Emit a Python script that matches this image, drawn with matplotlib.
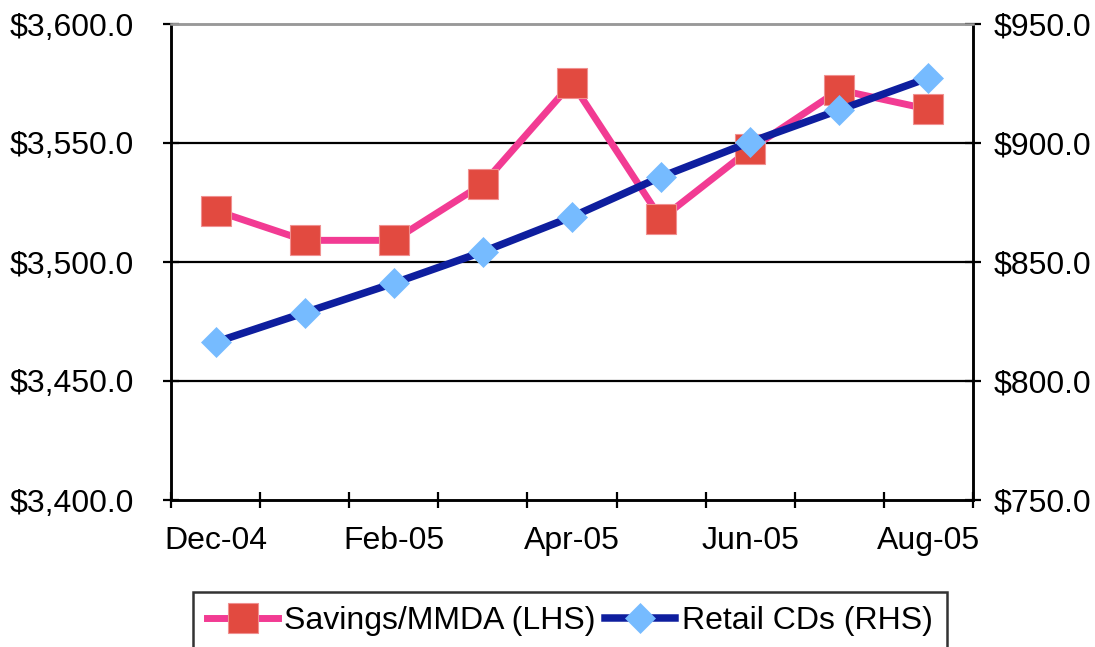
import matplotlib
matplotlib.use('Agg')
import matplotlib.pyplot as plt
import matplotlib.ticker as mtick
import numpy as np

plt.rcParams['font.family'] = ['Liberation Sans', 'DejaVu Sans']
dpi = 100

# Monthly balances
months = ['Dec-04', 'Jan-05', 'Feb-05', 'Mar-05', 'Apr-05',
          'May-05', 'Jun-05', 'Jul-05', 'Aug-05']
savings_mmda = [3521.6, 3509.1, 3509.1, 3532.8, 3575.3,
                3518.1, 3547.4, 3572.3, 3564.2]
retail_cds = [816.3, 828.7, 841.1, 854.3, 869.0,
              885.8, 900.4, 913.9, 927.4]
left_ticks = [3400, 3450, 3500, 3550, 3600]
right_ticks = [750, 800, 850, 900, 950]

x = np.arange(len(months))
font_size = 23

fig = plt.figure(figsize=(1095 / dpi, 647 / dpi), dpi=dpi)
ax = fig.add_axes([171 / 1095, 1 - 500 / 647, (973 - 171) / 1095, (500 - 24) / 647])
ax2 = ax.twinx()

# Savings on the left axis
ax.plot(x, savings_mmda, color='#F23B93', linewidth=5.0, marker='s',
        markersize=21, markerfacecolor='#E24A40', markeredgecolor='#F09090',
        markeredgewidth=0.8, label='Savings/MMDA (LHS)', zorder=3)

# Retail CDs on the right axis
ax2.plot(x, retail_cds, color='#0E1E9E', linewidth=5.4, marker='D',
         markersize=15.5, markerfacecolor='#76BBFF', markeredgecolor='#76BBFF',
         markeredgewidth=0.5, label='Retail CDs (RHS)', zorder=3)

ax.set_xlim(-0.5, len(months) - 0.5)
ax.set_ylim(left_ticks[0], left_ticks[-1])
ax2.set_ylim(right_ticks[0], right_ticks[-1])

ax.set_yticks(left_ticks)
ax.yaxis.set_major_formatter(mtick.FuncFormatter(lambda v, p: f'${v:,.1f}'))
ax2.set_yticks(right_ticks)
ax2.yaxis.set_major_formatter(mtick.FuncFormatter(lambda v, p: f'${v:,.1f}'))

# Tick marks between months, labels on every other month
ax.set_xticks(np.arange(-0.5, len(months), 1.0))
ax.set_xticklabels([])
ax.set_xticks(x[::2], minor=True)
ax.set_xticklabels(months[::2], minor=True)
ax.tick_params(axis='x', which='major', direction='inout', length=11, width=1.6, color='black')
ax.tick_params(axis='x', which='minor', length=0, pad=19, labelsize=font_size)

ax.tick_params(axis='y', direction='inout', length=11, width=1.6, pad=21.5,
               labelsize=font_size)
ax2.tick_params(axis='y', direction='inout', length=11, width=1.6, pad=9,
                labelsize=font_size)

# Gridlines
for v in left_ticks[1:-1]:
    ax.axhline(v, color='black', linewidth=1.6, zorder=1)

for a in (ax, ax2):
    for side in ('left', 'right', 'bottom'):
        a.spines[side].set_color('black')
        a.spines[side].set_linewidth(1.8)
    a.spines['top'].set_color('#999999')
    a.spines['top'].set_linewidth(1.8)

h1, l1 = ax.get_legend_handles_labels()
h2, l2 = ax2.get_legend_handles_labels()
leg = fig.legend(h1 + h2, l1 + l2, loc='upper left',
                 bbox_to_anchor=(193 / 1095, 1 - 592 / 647),
                 ncol=2, fontsize=font_size, frameon=True, fancybox=False,
                 edgecolor='black', handlelength=2.2, handletextpad=0.2,
                 columnspacing=0.3, borderpad=0.45, borderaxespad=0)
leg.get_frame().set_linewidth(1.8)

fig.savefig('out.png', dpi=dpi)
